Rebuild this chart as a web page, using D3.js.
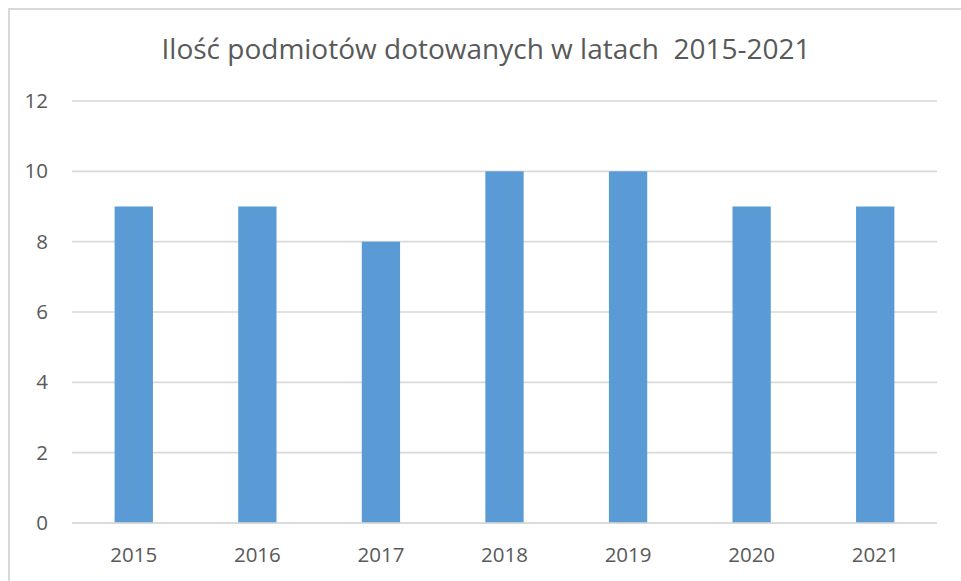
<!DOCTYPE html>
<html>
<head>
<meta charset="utf-8">
<script src="https://cdn.jsdelivr.net/npm/d3@7"></script>
<style>
  html, body { margin: 0; padding: 0; background: #fff; }
  svg { display: block; }
  text { font-family: "Open Sans", "Noto Sans", sans-serif; fill: #595959; }
</style>
</head>
<body>
<svg id="chart" width="961" height="581"></svg>
<script>
// Number of subsidised entities per year
const years = ["2015", "2016", "2017", "2018", "2019", "2020", "2021"];
const counts = [9, 9, 8, 10, 10, 9, 9];
const yTicks = [0, 2, 4, 6, 8, 10, 12];
const title = "Ilość podmiotów dotowanych w latach  2015-2021";

const svg = d3.select("#chart");
const W = 961, H = 581;
const plot = { left: 72, right: 937, top: 101, bottom: 523 };

// chart frame
svg.append("rect")
  .attr("x", 9).attr("y", 9)
  .attr("width", W + 10).attr("height", H + 10)
  .attr("fill", "#fff")
  .attr("stroke", "#d9d9d9")
  .attr("stroke-width", 2);

const x = d3.scaleBand().domain(years).range([plot.left, plot.right]).padding(0);
const y = d3.scaleLinear().domain([0, 12]).range([plot.bottom, plot.top]);

// horizontal grid
svg.append("g")
  .selectAll("line")
  .data(yTicks)
  .join("line")
  .attr("x1", plot.left).attr("x2", plot.right)
  .attr("y1", d => y(d)).attr("y2", d => y(d))
  .attr("stroke", "#d9d9d9")
  .attr("stroke-width", 1.6);

// y axis labels
const yAxis = d3.axisLeft(y).tickValues(yTicks).tickSize(0).tickPadding(0);
const gy = svg.append("g").attr("transform", `translate(${plot.left - 24},0)`).call(yAxis);
gy.select(".domain").remove();
gy.selectAll("text").attr("font-size", 20.5).style("fill", "#595959")
  .style("font-family", '"Open Sans", sans-serif');

// bars
const barW = x.bandwidth() * 0.31;
svg.append("g")
  .selectAll("rect")
  .data(years.map((yr, i) => ({ yr, v: counts[i] })))
  .join("rect")
  .attr("x", d => x(d.yr) + (x.bandwidth() - barW) / 2)
  .attr("y", d => y(d.v))
  .attr("width", barW)
  .attr("height", d => y(0) - y(d.v))
  .attr("fill", "#5b9bd5");

// baseline on top of bars
svg.append("line")
  .attr("x1", plot.left).attr("x2", plot.right)
  .attr("y1", y(0)).attr("y2", y(0))
  .attr("stroke", "#d9d9d9").attr("stroke-width", 1.6);

// x axis labels
const xAxis = d3.axisBottom(x).tickSize(0).tickPadding(0);
const gx = svg.append("g").attr("transform", `translate(0,${plot.bottom + 39})`).call(xAxis);
gx.select(".domain").remove();
gx.selectAll("text").attr("font-size", 20.5).attr("dy", 0).style("fill", "#595959")
  .style("font-family", '"Open Sans", sans-serif');

// title
svg.append("text")
  .attr("x", 486).attr("y", 59)
  .attr("text-anchor", "middle")
  .attr("font-size", 28)
  .style("white-space", "pre")
  .attr("xml:space", "preserve")
  .text(title);
</script>
</body>
</html>
